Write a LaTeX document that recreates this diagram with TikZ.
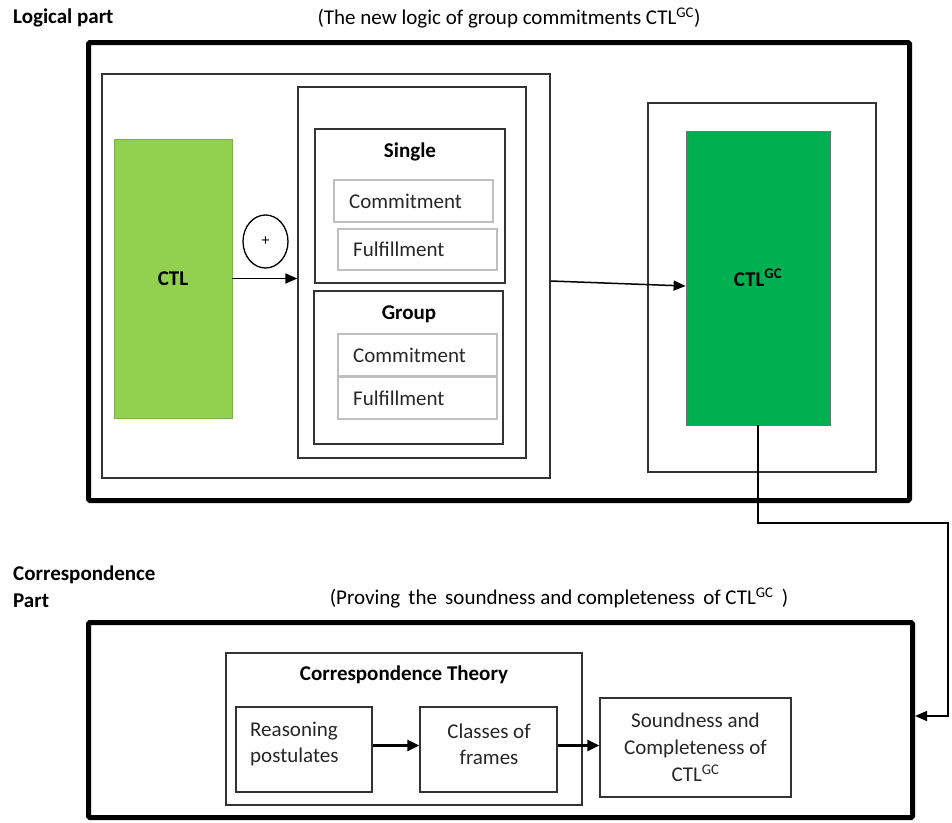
\documentclass[tikz,border=0pt]{standalone}
\usepackage{fontspec}
\setmainfont{Carlito}
\usetikzlibrary{arrows.meta,shapes.geometric}

\definecolor{ctlgreen}{HTML}{92D050}
\definecolor{gcgreen}{HTML}{00B050}
\definecolor{frame}{HTML}{333333}
\definecolor{itemline}{HTML}{BFBFBF}

\tikzset{
  heavybox/.style={draw=black, line width=5pt, rounded corners=1.5pt, inner sep=0pt},
  thinbox/.style={draw=frame, line width=1.3pt, inner sep=0pt},
  itembox/.style={draw=itemline, line width=1.2pt, inner sep=0pt},
  itemtext/.style={anchor=west, inner sep=0pt, text=black!85},
  title/.style={font=\fontsize{21}{25}\selectfont\bfseries, inner sep=0pt},
  arr/.style={line width=1.5pt, -{Triangle[length=12pt,width=10pt]}},
  boldarr/.style={line width=2.4pt, -{Triangle[length=12pt,width=11pt]}},
}

\begin{document}
\begin{tikzpicture}[x=1pt, y=-1pt, font=\fontsize{21}{26}\selectfont]
\useasboundingbox (0,0) rectangle (952,822);

% ---------- logical part ----------
\node[title, anchor=west] (loglabel) at (13,18) {Logical part};
\node[inner sep=0pt] (logcap) at (509,18) {(The new logic of group commitments CTL\textsuperscript{GC})};

\node[heavybox, minimum width=821pt, minimum height=458pt] (logic) at (499,271.5) {};
\node[thinbox, minimum width=448pt, minimum height=404pt] (leftbox) at (326,276) {};
\node[thinbox, minimum width=228pt, minimum height=371pt] (midbox) at (412,272.5) {};

% single commitments
\node[thinbox, minimum width=190pt, minimum height=154pt] (single) at (410,206) {};
\node[title] (singlet) at (410,152) {Single};
\node[itembox, minimum width=159pt, minimum height=42pt] (sc) at (413.5,201) {};
\node[itemtext] (sct) at (349,201) {Commitment};
\node[itembox, minimum width=159pt, minimum height=41pt] (sf) at (417.5,249.5) {};
\node[itemtext] (sft) at (353,249.5) {Fulfillment};

% group commitments
\node[thinbox, minimum width=189pt, minimum height=153pt] (group) at (408.5,367.5) {};
\node[title] (groupt) at (409,314) {Group};
\node[itembox, minimum width=159pt, minimum height=42pt] (gc) at (417.5,355) {};
\node[itemtext] (gct) at (353,355) {Commitment};
\node[itembox, minimum width=159pt, minimum height=42pt] (gf) at (417.5,398) {};
\node[itemtext] (gft) at (353,398) {Fulfillment};

% base logic and the extension operator
\node[fill=ctlgreen, draw=ctlgreen!85!black, line width=0.6pt, minimum width=118pt, minimum height=279pt,
      font=\fontsize{21}{25}\selectfont\bfseries] (ctl) at (173,278.5) {CTL};
\node[draw=black, line width=1.3pt, ellipse, minimum width=45pt, minimum height=53pt, inner sep=0pt,
      font=\fontsize{16}{18}\selectfont] (plus) at (265.5,241.5) {+};

% resulting logic
\node[thinbox, minimum width=228pt, minimum height=369pt] (rightbox) at (762,287.5) {};
\node[fill=gcgreen, draw=black!55, line width=0.8pt, minimum width=144pt, minimum height=294pt,
      font=\fontsize{21}{25}\selectfont\bfseries] (ctlgc) at (758,278) {CTL\textsuperscript{GC}};

\draw[arr] (ctl.east) -- (ctl.east -| midbox.west);
\draw[arr] ([yshift=-5pt]leftbox.east) -- ([yshift=-8pt]ctlgc.west);

% ---------- correspondence part ----------
\node[title, anchor=north west, align=left, font=\fontsize{21}{27}\selectfont\bfseries] (corrlabel) at (13,566) {Correspondence\\Part};
\node[inner sep=0pt] (corrcap) at (559,598) {(Proving\, the\, soundness and completeness\, of CTL\textsuperscript{GC}\, )};

\node[heavybox, minimum width=824pt, minimum height=195pt] (corrbox) at (500.5,720) {};
\node[thinbox, minimum width=356pt, minimum height=152pt] (theory) at (404,729) {};
\node[title] (theoryt) at (404,675) {Correspondence Theory};

\node[thinbox, minimum width=136pt, minimum height=85pt] (reason) at (304,749.5) {};
\node[anchor=west, align=left, inner sep=0pt, text=black!85] (reasont) at (250,744)
  {Reasoning\\postulates};
\node[thinbox, minimum width=137pt, minimum height=85pt] (classes) at (488.5,749.5) {};
\node[align=center, inner sep=0pt, text=black!85] (classest) at (489,744)
  {Classes of\\frames};
\node[thinbox, minimum width=191pt, minimum height=99pt, align=center, text=black!85,
      font=\fontsize{21}{27}\selectfont] (sound) at (695.5,747.5)
  {Soundness and\\Completeness of\\CTL\textsuperscript{GC}};

\draw[boldarr] ([yshift=4pt]reason.east) -- ([yshift=4pt]reason.east -| classes.west);
\draw[boldarr] ([yshift=4pt]classes.east) -- ([yshift=4pt]classes.east -| sound.west);

% link from the new logic down to the correspondence part
\coordinate (bend) at (948,523);
\draw[arr] (ctlgc.south) |- (bend) |- ([yshift=4pt]corrbox.east);
\end{tikzpicture}
\end{document}
